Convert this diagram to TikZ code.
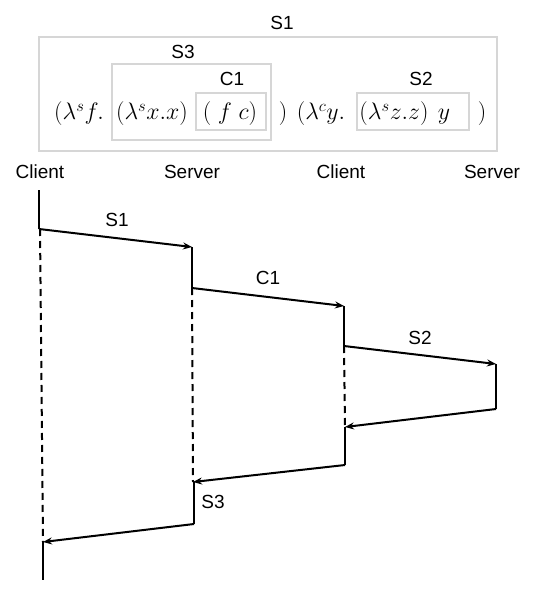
\documentclass[tikz,border=0pt]{standalone}
\usepackage{fontspec}
\setmainfont{Liberation Sans}
\usetikzlibrary{arrows.meta}
\definecolor{boxgray}{HTML}{D6D6D6}
\tikzset{
  lbl/.style={font=\fontsize{19}{21}\selectfont, inner sep=0pt},
  expr/.style={font=\fontsize{20.74}{24}\selectfont, scale=1.15, inner sep=0pt, anchor=base},
  grbox/.style={draw=boxgray, line width=1.2pt, inner sep=0pt},
  life/.style={line width=2pt, black},
  dline/.style={line width=2pt, black, dash pattern=on 7pt off 5pt},
  msg/.style={line width=2pt, black, -{Stealth[length=9pt,width=7pt]}},
}
\begin{document}
\begin{tikzpicture}[x=1pt,y=-1pt]
\useasboundingbox (0,0) rectangle (536,591);
% ---- top expression boxes
\node[grbox, minimum width=458pt, minimum height=114pt] (bS1) at (268,94) {};
\node[grbox, minimum width=159pt, minimum height=76pt] (bS3) at (191.5,102) {};
\node[grbox, minimum width=70pt, minimum height=37pt] (bC1) at (231,111.5) {};
\node[grbox, minimum width=112pt, minimum height=37pt] (bS2) at (413,111.5) {};
\node[lbl] (lS1) at (282,23) {S1};
\node[lbl] (lS3) at (183,52) {S3};
\node[lbl] (lC1) at (232,79) {C1};
\node[lbl] (lS2) at (421,79) {S2};
% expression pieces
\node[expr] (e1) at (79,120) {$(\lambda^s f.$};
\node[expr] (e2) at (152,120) {$(\lambda^s x.x)$};
\node[expr] (e3) at (230,120) {$(\;f\;c)$};
\node[expr] (e4) at (283,120) {$)$};
\node[expr] (e5) at (321,120) {$(\lambda^c y.$};
\node[expr] (e6) at (394,120) {$(\lambda^s z.z)$};
\node[expr] (e7) at (444,120) {$y$};
\node[expr] (e8) at (482,120) {$)$};
% ---- headers
\node[lbl] (h1) at (40,172) {Client};
\node[lbl] (h2) at (192,172) {Server};
\node[lbl] (h3) at (341,172) {Client};
\node[lbl] (h4) at (492,172) {Server};
% ---- lifeline points
\coordinate (a0) at (39,190);
\coordinate (a1) at (39,229);
\coordinate (a1d) at (40,229);
\coordinate (a2) at (43,542);
\coordinate (a3) at (43,580);
\coordinate (b1) at (192,247);
\coordinate (b2) at (192,288);
\coordinate (b3) at (193,482);
\coordinate (b3s) at (194,482);
\coordinate (b4) at (194,524);
\coordinate (c1) at (344,306);
\coordinate (c2) at (344,346);
\coordinate (c3) at (345,427);
\coordinate (c4) at (345,465);
\coordinate (d1) at (496,364);
\coordinate (d2) at (496,409);
% solid segments
\draw[life] (a0) -- (a1);
\draw[life] (a2) -- (a3);
\draw[life] (b1) -- (b2);
\draw[life] (b3s) -- (b4);
\draw[life] (c1) -- (c2);
\draw[life] (c3) -- (c4);
\draw[life] (d1) -- (d2);
% dashed segments
\draw[dline] (a1d) -- (a2);
\draw[dline] (b2) -- (b3);
\draw[dline] (c2) -- (c3);
% messages
\draw[msg] (a1) -- (b1);
\draw[msg] (b2) -- (c1);
\draw[msg] (c2) -- (d1);
\draw[msg] (d2) -- (c3);
\draw[msg] (c4) -- (b3);
\draw[msg] (b4) -- (a2);
% message labels
\node[lbl] (mS1) at (117,220) {S1};
\node[lbl] (mC1) at (268,278) {C1};
\node[lbl] (mS2) at (420,338) {S2};
\node[lbl] (mS3) at (213,502) {S3};
\end{tikzpicture}
\end{document}
